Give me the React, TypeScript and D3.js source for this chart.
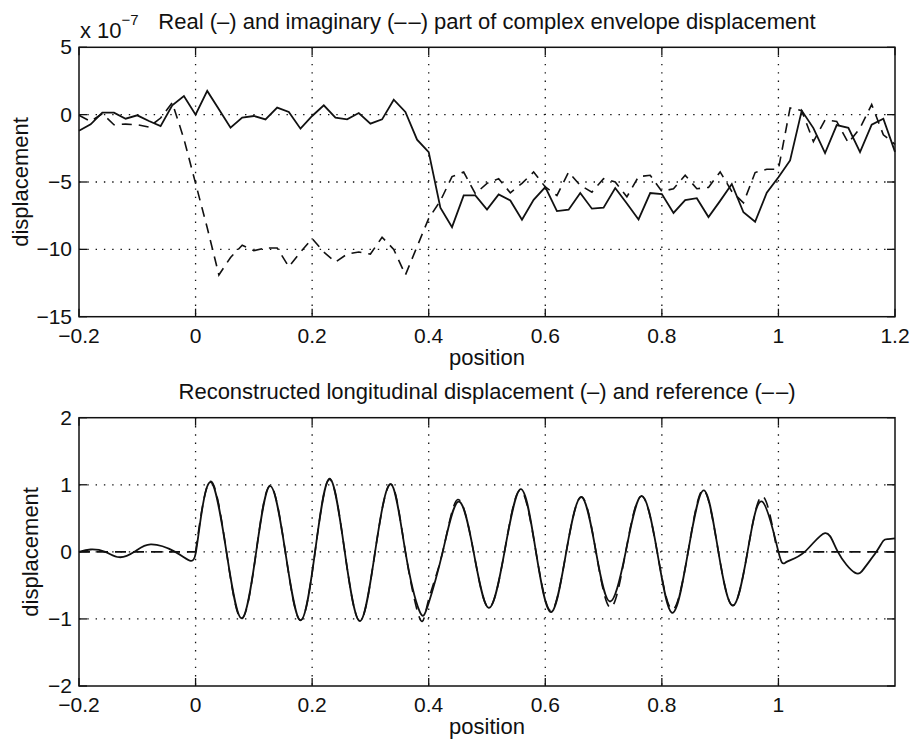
import React from "react";
import * as d3 from "d3";

// ---------- data ----------
const positions = [
  -0.2, -0.18, -0.16, -0.14, -0.12, -0.1, -0.08, -0.06, -0.04, -0.02,
  0.0, 0.02, 0.04, 0.06, 0.08, 0.1, 0.12, 0.14, 0.16, 0.18,
  0.2, 0.22, 0.24, 0.26, 0.28, 0.3, 0.32, 0.34, 0.36, 0.38,
  0.4, 0.42, 0.44, 0.46, 0.48, 0.5, 0.52, 0.54, 0.56, 0.58,
  0.6, 0.62, 0.64, 0.66, 0.68, 0.7, 0.72, 0.74, 0.76, 0.78,
  0.8, 0.82, 0.84, 0.86, 0.88, 0.9, 0.92, 0.94, 0.96, 0.98,
  1.0, 1.02, 1.04, 1.06, 1.08, 1.1, 1.12, 1.14, 1.16, 1.18, 1.2,
];

// complex envelope, units of 1e-7
const realPart = [
  -1.2, -0.72, 0.15, 0.15, -0.3, -0.05, -0.47, -0.85, 0.69, 1.38,
  0.0, 1.76, 0.4, -0.97, -0.22, -0.1, -0.35, 0.52, 0.2, -1.04,
  -0.1, 0.69, -0.22, -0.35, 0.12, -0.67, -0.35, 1.11, 0.2, -1.86,
  -2.78, -6.9, -8.35, -6.0, -6.0, -7.05, -5.92, -6.37, -7.8, -6.32,
  -5.38, -7.16, -7.06, -5.82, -6.98, -6.91, -5.45, -6.6, -7.78, -5.82,
  -5.9, -7.3, -6.35, -6.2, -7.6, -6.4, -5.15, -7.25, -7.95, -5.8,
  -4.65, -3.4, 0.3, -1.0, -2.85, -0.78, -0.98, -2.78, -0.74, -0.3, -2.76,
];

const imagPart = [
  -0.05, -0.5, 0.07, -0.75, -0.7, -0.75, -0.92, -0.25, 0.89, -1.8,
  -5.1, -8.4, -11.9, -10.6, -9.7, -10.1, -9.9, -9.9, -11.3, -10.2,
  -9.2, -10.2, -10.95, -10.35, -10.2, -10.35, -9.1, -10.0, -11.9, -9.8,
  -7.7, -6.4, -4.6, -4.26, -5.87, -5.1, -4.75, -5.8, -5.1, -4.26,
  -5.37, -6.0, -4.26, -5.25, -5.75, -4.75, -5.0, -6.1, -4.6, -4.5,
  -5.7, -5.5, -4.5, -5.5, -5.4, -4.25, -5.7, -6.55, -4.3, -4.05,
  -4.05, 0.5, 0.3, -2.0, -0.4, -0.5, -2.1, -1.0, 0.75, -1.5, -2.2,
];

// reconstructed longitudinal displacement (key points of the smooth curve)
const reconX = [
  -0.2, -0.18, -0.155, -0.131, -0.105, -0.077, -0.035, -0.008, 0.0, 0.006, 0.026,
  0.053, 0.079, 0.104, 0.128, 0.154, 0.18, 0.205, 0.23, 0.256, 0.282,
  0.308, 0.335, 0.36, 0.384, 0.399, 0.424, 0.451, 0.477, 0.503, 0.53,
  0.558, 0.584, 0.61, 0.636, 0.662, 0.687, 0.711, 0.738, 0.765, 0.792,
  0.818, 0.845, 0.872, 0.897, 0.922, 0.947, 0.972, 1.0, 1.014, 1.045,
  1.08, 1.102, 1.131, 1.148, 1.168, 1.18, 1.188, 1.2,
];
const reconY = [
  0.0, 0.035, 0, -0.08, 0, 0.11, 0, -0.135, -0.03, 0.32, 1.04,
  0, -0.99, 0, 0.98, 0, -1.02, 0, 1.09, 0, -1.03,
  0, 1.01, 0, -0.88, -0.79, 0, 0.75, 0, -0.835, 0,
  0.935, 0, -0.9, 0, 0.815, 0, -0.74, 0, 0.835, 0,
  -0.91, 0, 0.915, 0, -0.8, 0, 0.75, 0, -0.15, 0,
  0.28, 0, -0.31, -0.235, 0, 0.165, 0.19, 0.2,
];

// reference displacement (oscillating part) and its zero segments
const refX = [
  0, 0.026, 0.053, 0.079, 0.104, 0.128, 0.154, 0.18, 0.205, 0.23,
  0.256, 0.282, 0.308, 0.335, 0.36, 0.385, 0.399, 0.424, 0.45, 0.477, 0.503,
  0.53, 0.557, 0.584, 0.61, 0.636, 0.662, 0.687, 0.712, 0.738, 0.765,
  0.792, 0.818, 0.845, 0.871, 0.897, 0.922, 0.947, 0.972, 0.998,
];
const refY = [
  0, 1.05, 0, -1.0, 0, 0.99, 0, -1.02, 0, 1.08,
  0, -1.03, 0, 1.01, 0, -1.0, -0.74, 0, 0.78, 0, -0.83,
  0, 0.92, 0, -0.88, 0, 0.82, 0, -0.83, 0, 0.83,
  0, -0.86, 0, 0.92, 0, -0.8, 0, 0.83, 0,
];
const refZeroSegments = [
  [-0.2, 0],
  [0.998, 1.2],
];

const xTicksTop = [-0.2, 0, 0.2, 0.4, 0.6, 0.8, 1, 1.2];
const xTicksBottom = [-0.2, 0, 0.2, 0.4, 0.6, 0.8, 1];
const yTicksTop = [-15, -10, -5, 0, 5];
const yTicksBottom = [-2, -1, 0, 1, 2];

const titleTop = "Real (–) and imaginary (–\u200A–) part of complex envelope displacement";
const titleBottom = "Reconstructed longitudinal displacement (–) and reference (–\u200A–)";
const xLabel = "position";
const yLabel = "displacement";

// ---------- layout ----------
const W = 912;
const H = 740;
const FONT = "'Liberation Sans', Arial, Helvetica, sans-serif";
const FS_TICK = 21;
const FS_LABEL = 22;
const INK = "#111";

const xScale = d3.scaleLinear().domain([-0.2, 1.2]).range([79, 895]);
const yTop = d3.scaleLinear().domain([-15, 5]).range([316.7, 47.3]);
const yBot = d3.scaleLinear().domain([-2, 2]).range([686, 417.7]);

const fmt = (v: number) => String(v).replace("-", "−");

function Axes({ y, yTicks, xTicks, yLabelX }: any) {
  const [x0, x1] = xScale.range();
  const [y0, y1] = [y.range()[1], y.range()[0]];
  const tl = 8;
  return (
    <g>
      {xTicks
        .filter((t: number) => t > -0.2 && t < 1.2)
        .map((t: number) => (
          <line key={"gx" + t} x1={xScale(t)} x2={xScale(t)} y1={y0} y2={y1}
            stroke={INK} strokeWidth={1.3} strokeDasharray="1.4 6.9" />
        ))}
      {yTicks
        .filter((t: number) => t > y.domain()[0] && t < y.domain()[1])
        .map((t: number) => (
          <line key={"gy" + t} x1={x0} x2={x1} y1={y(t)} y2={y(t)}
            stroke={INK} strokeWidth={1.3} strokeDasharray="1.4 6.9" />
        ))}
      {xTicks.map((t: number) => (
        <g key={"tx" + t}>
          <line x1={xScale(t)} x2={xScale(t)} y1={y1} y2={y1 - tl} stroke={INK} strokeWidth={1.3} />
          <line x1={xScale(t)} x2={xScale(t)} y1={y0} y2={y0 + tl} stroke={INK} strokeWidth={1.3} />
          <text x={xScale(t)} y={y1 + 26} textAnchor="middle" fontFamily={FONT} fontSize={FS_TICK} fill={INK}>
            {fmt(t)}
          </text>
        </g>
      ))}
      {yTicks.map((t: number) => (
        <g key={"ty" + t}>
          <line x1={x0} x2={x0 + tl} y1={y(t)} y2={y(t)} stroke={INK} strokeWidth={1.3} />
          <line x1={x1} x2={x1 - tl} y1={y(t)} y2={y(t)} stroke={INK} strokeWidth={1.3} />
          <text x={x0 - 7} y={y(t) + 7} textAnchor="end" fontFamily={FONT} fontSize={FS_TICK} fill={INK}>
            {fmt(t)}
          </text>
        </g>
      ))}
      <rect x={x0} y={y0} width={x1 - x0} height={y1 - y0} fill="none" stroke={INK} strokeWidth={1.5} />
      <text x={(x0 + x1) / 2} y={y1 + 48} textAnchor="middle" fontFamily={FONT} fontSize={FS_LABEL} fill={INK}>
        {xLabel}
      </text>
      <text transform={`translate(${yLabelX},${(y0 + y1) / 2}) rotate(-90)`} textAnchor="middle"
        fontFamily={FONT} fontSize={FS_LABEL} fill={INK}>
        {yLabel}
      </text>
    </g>
  );
}

export default function App() {
  const topReal = d3.line<number>().x((_, i) => xScale(positions[i])).y((v) => yTop(v))(realPart) || "";
  const topImag = d3.line<number>().x((_, i) => xScale(positions[i])).y((v) => yTop(v))(imagPart) || "";
  const recon = d3.line<number>().curve(d3.curveNatural)
    .x((_, i) => xScale(reconX[i])).y((v) => yBot(v))(reconY) || "";
  const ref = d3.line<number>().curve(d3.curveNatural)
    .x((_, i) => xScale(refX[i])).y((v) => yBot(v))(refY) || "";
  const refZero = refZeroSegments.map((seg) =>
    d3.line<number>().x((v) => xScale(v)).y(() => yBot(0))(seg) || ""
  );

  return (
    <svg width={W} height={H} style={{ position: "absolute", left: 0, top: 0, background: "#fff" }}>
      <rect width={W} height={H} fill="#fff" />
      {/* top panel */}
      <Axes y={yTop} yTicks={yTicksTop} xTicks={xTicksTop} yLabelX={28} />
      <path d={topImag} fill="none" stroke={INK} strokeWidth={1.6} strokeDasharray="10 7" />
      <path d={topReal} fill="none" stroke={INK} strokeWidth={1.8} />
      <text x={(79 + 895) / 2} y={29} textAnchor="middle" fontFamily={FONT} fontSize={FS_LABEL} fill={INK}>
        {titleTop}
      </text>
      <text x={80} y={38} fontFamily={FONT} fontSize={FS_LABEL} fill={INK}>
        x 10
        <tspan dy={-13} fontSize={15}>−7</tspan>
      </text>

      {/* bottom panel */}
      <Axes y={yBot} yTicks={yTicksBottom} xTicks={xTicksBottom} yLabelX={38} />
      {refZero.map((d, i) => (
        <path key={i} d={d} fill="none" stroke={INK} strokeWidth={1.6} strokeDasharray="11 7" />
      ))}
      <path d={ref} fill="none" stroke={INK} strokeWidth={1.6} strokeDasharray="11 7" />
      <path d={recon} fill="none" stroke={INK} strokeWidth={1.8} />
      <text x={(79 + 895) / 2} y={399} textAnchor="middle" fontFamily={FONT} fontSize={FS_LABEL} fill={INK}>
        {titleBottom}
      </text>
    </svg>
  );
}
